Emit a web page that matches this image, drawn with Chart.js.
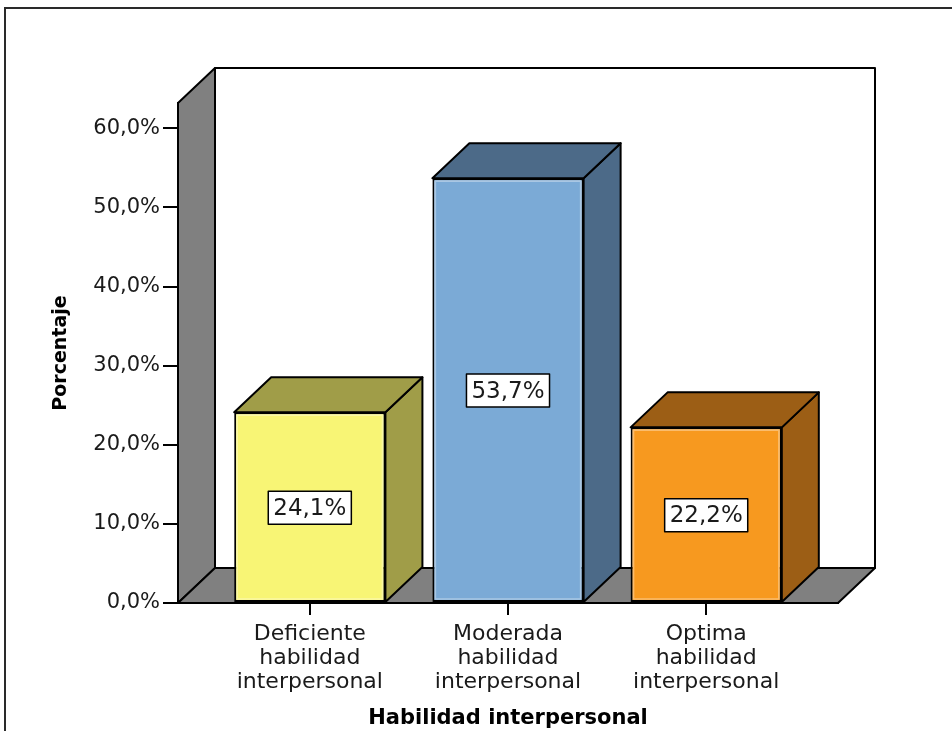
<!DOCTYPE html>
<html>
<head>
<meta charset="utf-8">
<script src="https://cdn.jsdelivr.net/npm/chart.js@4/dist/chart.umd.min.js"></script>
<style>
  html, body { margin: 0; padding: 0; background: #fff; }
  #wrap { width: 952px; height: 731px; }
</style>
</head>
<body>
<div id="wrap"><canvas id="c" width="952" height="731"></canvas></div>
<script>
// Category labels (one entry per line) and percentage values
const categories = [
  ['Deficiente', 'habilidad', 'interpersonal'],
  ['Moderada', 'habilidad', 'interpersonal'],
  ['Optima', 'habilidad', 'interpersonal']
];
const percentages = [24.1, 53.7, 22.2];
const yTickValues = [0, 10, 20, 30, 40, 50, 60];
const yTitle = 'Porcentaje';
const xTitle = 'Habilidad interpersonal';

// Styling
const faceColors = ['#F8F575', '#7BAAD6', '#F7991F'];
const shadeColors = ['#A09D48', '#4C6A88', '#9C5E15'];
const WALL = '#808080';
const DEPTH_X = 37, DEPTH_Y = -35;
const FONT = '"DejaVu Sans", "Liberation Sans", Arial, sans-serif';

const pct = v => v.toFixed(1).replace('.', ',') + '%';

function poly(ctx, pts, fill) {
  ctx.beginPath();
  ctx.moveTo(pts[0][0], pts[0][1]);
  for (let i = 1; i < pts.length; i++) ctx.lineTo(pts[i][0], pts[i][1]);
  ctx.closePath();
  ctx.fillStyle = fill;
  ctx.fill();
  ctx.stroke();
}

// Frame, back wall, side wall and floor behind the axes
const box3d = {
  id: 'box3d',
  beforeDraw(chart) {
    const ctx = chart.ctx;
    const { left, right, top } = chart.chartArea;
    const y0 = chart.scales.y.getPixelForValue(0);
    ctx.save();
    ctx.fillStyle = '#fff';
    ctx.fillRect(0, 0, chart.width, chart.height);
    ctx.strokeStyle = '#2a2a2a';
    ctx.lineWidth = 2;
    ctx.strokeRect(5, 8, chart.width + 20, chart.height + 20);

    ctx.strokeStyle = '#000';
    ctx.lineWidth = 2;
    ctx.lineJoin = 'round';
    poly(ctx, [[left + DEPTH_X, top + DEPTH_Y], [right + DEPTH_X, top + DEPTH_Y],
               [right + DEPTH_X, y0 + DEPTH_Y], [left + DEPTH_X, y0 + DEPTH_Y]], '#fff');
    poly(ctx, [[left, y0], [left, top], [left + DEPTH_X, top + DEPTH_Y],
               [left + DEPTH_X, y0 + DEPTH_Y]], WALL);
    poly(ctx, [[left, y0], [left + DEPTH_X, y0 + DEPTH_Y],
               [right + DEPTH_X, y0 + DEPTH_Y], [right, y0]], WALL);
    ctx.restore();
  },
  afterDatasetsDraw(chart) {
    const ctx = chart.ctx;
    const yScale = chart.scales.y;
    const meta = chart.getDatasetMeta(0);
    ctx.save();
    ctx.lineJoin = 'round';
    meta.data.forEach((bar, i) => {
      const l = bar.x - bar.width / 2, r = bar.x + bar.width / 2;
      const t = bar.y, b = bar.base;
      ctx.strokeStyle = '#000';
      ctx.lineWidth = 2;
      // side face
      poly(ctx, [[r, t], [r + DEPTH_X, t + DEPTH_Y], [r + DEPTH_X, b + DEPTH_Y], [r, b]], shadeColors[i]);
      // top face
      poly(ctx, [[l, t], [l + DEPTH_X, t + DEPTH_Y], [r + DEPTH_X, t + DEPTH_Y], [r, t]], shadeColors[i]);
      // soft inner highlight on the front face
      ctx.strokeStyle = 'rgba(255,255,255,0.35)';
      ctx.lineWidth = 1.5;
      ctx.strokeRect(l + 3, t + 3, r - l - 6, b - t - 6);

      // value label box at half the bar height
      const v = percentages[i];
      const text = pct(v);
      ctx.font = '23px ' + FONT;
      const w = ctx.measureText(text).width;
      const cy = yScale.getPixelForValue(v / 2);
      const padX = 5, h = 33;
      ctx.fillStyle = '#fff';
      ctx.fillRect(bar.x - w / 2 - padX, cy - h / 2, w + 2 * padX, h);
      ctx.strokeStyle = '#000';
      ctx.lineWidth = 1.5;
      ctx.strokeRect(bar.x - w / 2 - padX, cy - h / 2, w + 2 * padX, h);
      ctx.fillStyle = '#1a1a1a';
      ctx.textAlign = 'center';
      ctx.textBaseline = 'middle';
      ctx.fillText(text, bar.x, cy + 1);
    });
    ctx.restore();
  }
};

new Chart(document.getElementById('c'), {
  type: 'bar',
  data: {
    datasets: [{
      data: percentages.map((v, i) => ({ x: i + 1, y: v })),
      backgroundColor: faceColors,
      borderColor: '#000',
      borderWidth: 2,
      borderSkipped: false,
      categoryPercentage: 0.763,
      barPercentage: 1
    }]
  },
  options: {
    responsive: false,
    animation: false,
    devicePixelRatio: 1,
    layout: { padding: { left: 40, top: 103, right: 114, bottom: 0 } },
    plugins: { legend: { display: false }, tooltip: { enabled: false } },
    scales: {
      x: {
        type: 'linear',
        offset: false,
        min: 0.335,
        max: 3.665,
        afterBuildTicks: s => { s.ticks = categories.map((_, i) => ({ value: i + 1 })); },
        afterFit: s => { s.height = 128; },
        ticks: {
          callback: v => categories[Math.round(v) - 1],
          font: { family: FONT, size: 22, lineHeight: 1.1 },
          color: '#1a1a1a',
          padding: 7,
          maxRotation: 0,
          autoSkip: false
        },
        grid: { offset: false, drawOnChartArea: false, tickLength: 12, color: '#000', lineWidth: 2 },
        border: { color: '#000', width: 2 },
        title: {
          display: true, text: xTitle, color: '#000',
          font: { family: FONT, size: 21, weight: 'bold' },
          padding: { top: 0, bottom: 0 }
        }
      },
      y: {
        min: 0,
        max: 63.2,
        afterBuildTicks: s => { s.ticks = yTickValues.map(v => ({ value: v })); },
        afterFit: s => { s.width = 138; },
        ticks: {
          callback: v => pct(v),
          font: { family: FONT, size: 21 },
          color: '#1a1a1a',
          padding: 3
        },
        grid: { drawOnChartArea: false, tickLength: 15, color: '#000', lineWidth: 2 },
        border: { color: '#000', width: 2 },
        title: {
          display: true, text: yTitle, color: '#000',
          font: { family: FONT, size: 19, weight: 'bold' },
          padding: { top: 10, bottom: 0 }
        }
      }
    }
  },
  plugins: [box3d]
});
</script>
</body>
</html>
